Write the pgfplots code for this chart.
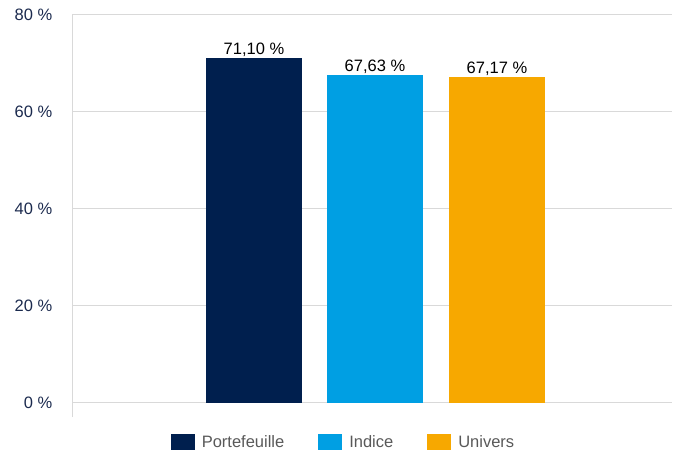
\documentclass[border=0pt]{standalone}
\usepackage{pgfplots}
\pgfplotsset{compat=1.18}
\usepackage{fontspec}
\setmainfont{Liberation Sans}
\definecolor{navy}{HTML}{001F4E}
\definecolor{cyanb}{HTML}{009FE3}
\definecolor{orangeb}{HTML}{F7A800}
\definecolor{gridgrey}{HTML}{D9D9D9}
\definecolor{ticknavy}{HTML}{1B2A4E}
\definecolor{legtext}{HTML}{595959}
\begin{document}
\begin{tikzpicture}
\useasboundingbox (0,0) rectangle (674bp,450bp);
\begin{axis}[
  at={(72bp,47bp)}, anchor=south west,
  scale only axis, width=600bp, height=388bp,
  xmin=72, xmax=672, ymin=0, ymax=80,
  xtick=\empty,
  ytick={0,20,40,60,80},
  yticklabel={\pgfmathprintnumber{\tick}~\%},
  /pgf/number format/assume math mode=true,
  yticklabel style={font=\fontsize{16.5bp}{18bp}\selectfont, text=ticknavy, xshift=-14bp},
  ytick style={draw=none},
  ymajorgrids, grid style={draw=gridgrey, line width=1bp},
  axis lines=left,
  x axis line style={draw=none},
  y axis line style={-, draw=gridgrey, line width=1bp, shorten <=-14bp},
  ybar, bar width=96, bar shift=0pt,
  nodes near coords={\pgfmathprintnumber[fixed,fixed zerofill,precision=2,use comma]{\pgfplotspointmeta}~\%},
  nodes near coords style={font=\fontsize{16.5bp}{18bp}\selectfont, text=black, inner sep=1.5bp},
  legend columns=3,
  legend style={draw=none, fill=none, at={(0.4525,-0.1005)}, anchor=center,
    font=\fontsize{16.5bp}{18bp}\selectfont, text=legtext,
    /tikz/every odd column/.append style={column sep=5bp},
    /tikz/every even column/.append style={column sep=32bp}},
  legend image code/.code={\fill[#1] (0bp,-8bp) rectangle (24bp,8bp);},
]
\addplot[fill=navy, draw=none] coordinates {(254,71.10)};
\addplot[fill=cyanb, draw=none] coordinates {(375,67.63)};
\addplot[fill=orangeb, draw=none] coordinates {(497,67.17)};
\legend{Portefeuille, Indice, Univers}
\end{axis}
\end{tikzpicture}
\end{document}
